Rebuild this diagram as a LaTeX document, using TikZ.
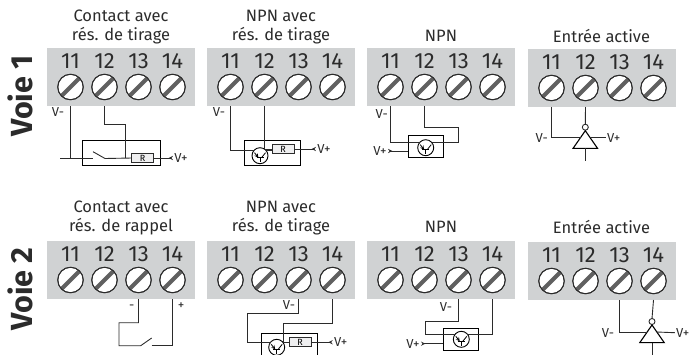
\documentclass[tikz,border=0pt]{standalone}
\usepackage{fontspec}
\setmainfont{Fira Sans}
\definecolor{grisbloc}{HTML}{D0D2D3}
\definecolor{grisfente}{HTML}{606060}
\definecolor{encre}{HTML}{2B2B2B}
\tikzset{
  bloc/.style={fill=grisbloc, anchor=north west, minimum width=148pt, minimum height=58pt, inner sep=0pt, outer sep=0pt},
  vis/.style={circle, draw=encre, line width=0.9pt, fill=white, minimum size=25.5pt, inner sep=0pt, outer sep=0pt},
  fente/.style={draw=grisfente, line width=4.2pt},
  num/.style={font=\fontsize{22}{22}\selectfont, text=encre, inner sep=0pt},
  titre/.style={font=\fontsize{16.5}{19}\selectfont, text=encre, align=center, inner sep=0pt},
  voie/.style={font=\fontsize{30.5}{30.5}\selectfont\bfseries, text=encre, rotate=90, inner sep=0pt},
  fil/.style={draw=encre, line width=0.9pt},
  boitier/.style={draw=black, line width=1.1pt, inner sep=0pt, outer sep=0pt},
  resis/.style={draw=encre, line width=0.8pt, fill=grisbloc!35, font=\fontsize{9}{9}\selectfont, minimum width=22pt, minimum height=9pt, inner sep=0pt, outer sep=0pt},
  volt/.style={font=\fontsize{13}{13}\selectfont, text=encre, inner sep=1pt},
  entree/.style={fil, >=stealth, >-},
  tr/.style={circle, draw=black, line width=0.9pt, fill=white, minimum size=16pt, inner sep=0pt, outer sep=0pt},
}
\newcommand{\bornier}[3]{
  \node[bloc] (#1) at (#2,#3) {};
  \foreach \n [count=\i from 0] in {11,12,13,14} {
    \pgfmathsetmacro{\xv}{#2+23.5+34*\i}
    \node[num] (#1n\n) at (\xv,#3+13.5) {\n};
    \node[vis] (#1\n) at (\xv,#3+39) {};
    \draw[fente] (#1\n.225) -- (#1\n.45);
    \draw[draw=encre, line width=0.9pt] (#1\n) circle (12.75pt);
  }
}
\newcommand{\transistor}[3]{
  \node[tr] (#1) at (#2,#3) {};
  \begin{scope}[shift={(#2,#3)}, line width=0.8pt]
    \draw (-3.5,2) -- (3.5,2);
    \draw (0,2) -- (0,6.5);
    \draw[->, >=stealth] (-5.5,-3) -- (-1.5,2);
    \draw (1.5,2) -- (5.5,-3);
  \end{scope}
}
\newcommand{\porte}[3]{
  \node[circle, draw=encre, line width=0.9pt, minimum size=6pt, inner sep=0pt, outer sep=0pt] (#1) at (#2,#3-3.5) {};
  \draw[boitier] (#2,#3) -- (#2-12.2,#3+17.6) -- (#2+12.2,#3+17.6) -- cycle;
  \coordinate (#1g) at (#2-4.8,#3+7);
  \coordinate (#1d) at (#2+4.8,#3+7);
  \coordinate (#1b) at (#2,#3+17.6);
}
\begin{document}
\begin{tikzpicture}[x=1pt,y=-1pt]
\useasboundingbox (0,0) rectangle (690,354);
\clip (0,0) rectangle (690,354);

% titres
\node[voie] (voieun) at (20,96) {Voie 1};
\node[voie] (voiedeux) at (20,289) {Voie 2};
\node[titre] (ta) at (121,27) {Contact avec\\rés. de tirage};
\node[titre] (tb) at (281,27) {NPN avec\\rés. de tirage};
\node[titre] (tc) at (441,36) {NPN};
\node[titre] (td) at (601.5,36) {Entrée active};
\node[titre] (te) at (121,218) {Contact avec\\rés. de rappel};
\node[titre] (tf) at (281,218) {NPN avec\\rés. de tirage};
\node[titre] (tg) at (441,227) {NPN};
\node[titre] (th) at (601.5,227) {Entrée active};

% borniers
\bornier{a}{47}{48}
\bornier{b}{207}{48}
\bornier{c}{367}{48}
\bornier{d}{528}{49}
\bornier{e}{47}{241}
\bornier{f}{207}{241}
\bornier{g}{367}{241}
\bornier{h}{528}{242}

% voie 1, contact
\node[boitier, draw, minimum width=78pt, minimum height=25.5pt] (boxa) at (121.3,153) {};
\node[resis] (ra) at (142.7,158) {R};
\coordinate (aout) at (60,158);
\coordinate (abl) at (93,158);
\coordinate (abh) at (93,151.7);
\coordinate (abf) at (105,158.5);
\coordinate (ajo) at (125.7,158);
\node[volt] (amoins) at (58,112) {V-};
\node[volt] (aplus) at (181,158) {V+};
\draw[fil] (aout) -- (abl);
\draw[fil] (abh) -- (abf) -- (ra.west);
\draw[fil] (a11 |- a.south) -- (a11 |- aout);
\draw[fil] (a12 |- a.south) -- (a12 |- 0,124.3) -| (ajo);
\draw[entree] (aplus.west) -- (ra.east);

% voie 1, npn avec resistance
\node[boitier, draw, minimum width=55.5pt, minimum height=25pt] (boxb) at (272.5,153.2) {};
\transistor{qb}{260}{155.7}
\node[resis] (rb) at (283,149) {R};
\node[volt] (bmoins) at (219,112) {V-};
\node[volt] (bplus) at (324,149) {V+};
\draw[fil] (b11 |- b.south) |- (qb.140);
\draw[fil] (b12 |- b.south) |- (rb.west);
\draw[fil] (qb.40) -- (rb.west |- qb.40);
\draw[entree] (bplus.west) -- (rb.east);

% voie 1, npn
\node[boitier, draw, minimum width=35pt, minimum height=22.3pt] (boxc) at (425.8,146.2) {};
\transistor{qc}{425.7}{147.7}
\coordinate (cdr) at (458.7,127.7);
\node[volt] (cmoins) at (381.7,114) {V-};
\node[volt] (cplus) at (380,151) {V+};
\draw[fil] (c11 |- c.south) |- (qc.140);
\draw[fil] (c12 |- c.south) |- (cdr) |- (qc.40);
\draw[entree] (cplus.east) -- (boxc.west |- cplus);

% voie 1, entree active
\porte{pd}{585.3}{130.7}
\coordinate (dfin) at (585.3,161.3);
\node[volt] (dmoins) at (541.7,137.7) {V-};
\node[volt] (dplus) at (613.7,137.7) {V+};
\draw[fil] (d11 |- d.south) |- (pdg);
\draw[fil] (d12 |- d.south) -- (pd.north);
\draw[fil] (pdd) -- (dplus.west);
\draw[fil] (pdb) -- (dfin);

% voie 2, contact
\coordinate (eha) at (119,322.7);
\coordinate (ebl) at (119,345.7);
\coordinate (elm) at (140.7,345.7);
\coordinate (elh) at (151.7,338);
\coordinate (edb) at (151.7,345.7);
\node[volt] (emoins) at (131.7,307) {-};
\node[volt] (eplus) at (181,306) {+};
\draw[fil] (e13 |- e.south) |- (eha) -- (ebl) -- (elm) -- (elh);
\draw[fil] (edb) -| (e14 |- e.south);

% voie 2, npn avec resistance
\node[boitier, draw, minimum width=55.5pt, minimum height=25pt] (boxf) at (289.5,346) {};
\transistor{qf}{276.7}{347.3}
\node[resis] (rf) at (300,342.2) {R};
\coordinate (fha) at (247.3,313.7);
\coordinate (fhb) at (283.3,323);
\node[volt] (fmoins) at (289,305) {V-};
\node[volt] (fplus) at (340.7,342.2) {V+};
\draw[fil] (f13 |- f.south) |- (fha) |- (qf.140);
\draw[fil] (f14 |- f.south) |- (fhb) |- (rf.west);
\draw[entree] (fplus.west) -- (rf.east);

% voie 2, npn
\node[boitier, draw, minimum width=35.4pt, minimum height=22pt] (boxg) at (461,339.3) {};
\transistor{qg}{461.3}{339.3}
\coordinate (gha) at (425.7,321.3);
\node[volt] (gmoins) at (446,307) {V-};
\node[volt] (gplus) at (413,343.7) {V+};
\draw[fil] (g13 |- g.south) |- (gha) |- (qg.140);
\draw[fil] (g14 |- g.south) |- (qg.40);
\draw[entree] (gplus.east) -- (boxg.west |- gplus);

% voie 2, entree active
\porte{ph}{652}{325}
\coordinate (hfin) at (652,356);
\node[volt] (hmoins) at (608,332.7) {V-};
\node[volt] (hplus) at (682.7,332.7) {V+};
\draw[fil] (h13 |- h.south) |- (phg);
\draw[fil] (h14 |- h.south) -- (ph.north);
\draw[fil] (phd) -- (hplus.west);
\draw[fil] (phb) -- (hfin);
\end{tikzpicture}
\end{document}
